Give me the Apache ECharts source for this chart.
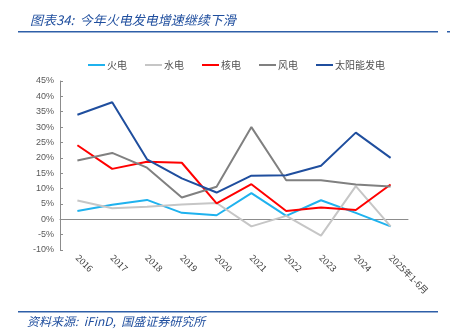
<!DOCTYPE html>
<html><head><meta charset="utf-8">
<script src="https://cdn.jsdelivr.net/npm/echarts@6/dist/echarts.min.js"></script>
<style>html,body{margin:0;padding:0;background:#fff}#c{width:450px;height:335px}</style>
</head><body><div id="c"></div>
<script>
const categories = ['2016','2017','2018','2019','2020','2021','2022','2023','2024','2025年1-6月'];
const thermal = [2.7, 4.7, 6.3, 2.1, 1.3, 8.5, 1.1, 6.2, 2.1, -2.3];
const hydro = [6.1, 3.6, 4.1, 4.8, 5.3, -2.3, 1.1, -5.3, 10.8, -2.3];
const nuclear = [24.1, 16.4, 18.7, 18.4, 5.2, 11.4, 2.7, 3.8, 3.0, 11.3];
const wind = [19.1, 21.6, 16.8, 7.1, 10.6, 30.0, 12.7, 12.7, 11.3, 10.7];
const solar = [34.0, 38.1, 19.5, 13.3, 8.7, 14.2, 14.3, 17.4, 28.2, 20.0];
const seriesNames = ['火电','水电','核电','风电','太阳能发电'];
const colors = ['#1FB2EE','#C6C6C6','#FF0000','#808080','#1F4E9E'];
const yTicks = {min:-10, max:45, interval:5};

const chart = echarts.init(document.getElementById('c'), null, {renderer:'canvas'});
const dataSets = [thermal, hydro, nuclear, wind, solar];
chart.setOption({
  animation:false,
  title:{text:'图表34:  今年火电发电增速继续下滑', left:25, top:9,
    textStyle:{fontSize:13, fontStyle:'italic', fontWeight:'normal', color:'#1F4E9E', fontFamily:'Noto Sans CJK SC'}},
  graphic:[
    {type:'rect', shape:{x:18,y:31,width:420,height:1.5}, style:{fill:'#2E5FA8'}},
    {type:'rect', shape:{x:447,y:31,width:3,height:1.5}, style:{fill:'#2E5FA8'}},
    {type:'rect', shape:{x:18,y:311,width:420,height:1.5}, style:{fill:'#2E5FA8'}},
    {type:'text', left:27, top:315, style:{text:'资料来源:  iFinD,  国盛证券研究所', fontSize:12, fontStyle:'italic', fill:'#1F4E9E', fontFamily:'Noto Sans CJK SC'}}
  ],
  legend:{top:60, left:88, padding:0, itemWidth:17, itemHeight:2, itemGap:18, icon:'rect',
    textStyle:{fontSize:10, color:'#505050', fontFamily:'Noto Sans CJK SC', padding:[0,0,0,-3]},
    data:seriesNames},
  grid:{left:60, right:42, top:81, bottom:85, containLabel:false},
  xAxis:{type:'category', data:categories, boundaryGap:true,
    axisLine:{lineStyle:{color:'#8C8C8C'}},
    axisTick:{inside:true, length:3, lineStyle:{color:'#8C8C8C'}},
    axisLabel:{rotate:-45, fontSize:9, color:'#404040', margin:6, interval:0, fontFamily:'Noto Sans CJK SC'}},
  yAxis:{type:'value', min:yTicks.min, max:yTicks.max, interval:yTicks.interval,
    axisLine:{show:true, lineStyle:{color:'#8C8C8C'}},
    axisTick:{show:true, inside:true, length:3, lineStyle:{color:'#8C8C8C'}},
    splitLine:{show:false},
    axisLabel:{formatter:'{value}%', fontSize:9, color:'#595959', margin:6, fontFamily:'Liberation Sans'}},
  series: seriesNames.map((n,i)=>({name:n, type:'line', data:dataSets[i], symbol:'none',
    lineStyle:{width:2, color:colors[i]}, itemStyle:{color:colors[i]}}))
});
</script></body></html>
